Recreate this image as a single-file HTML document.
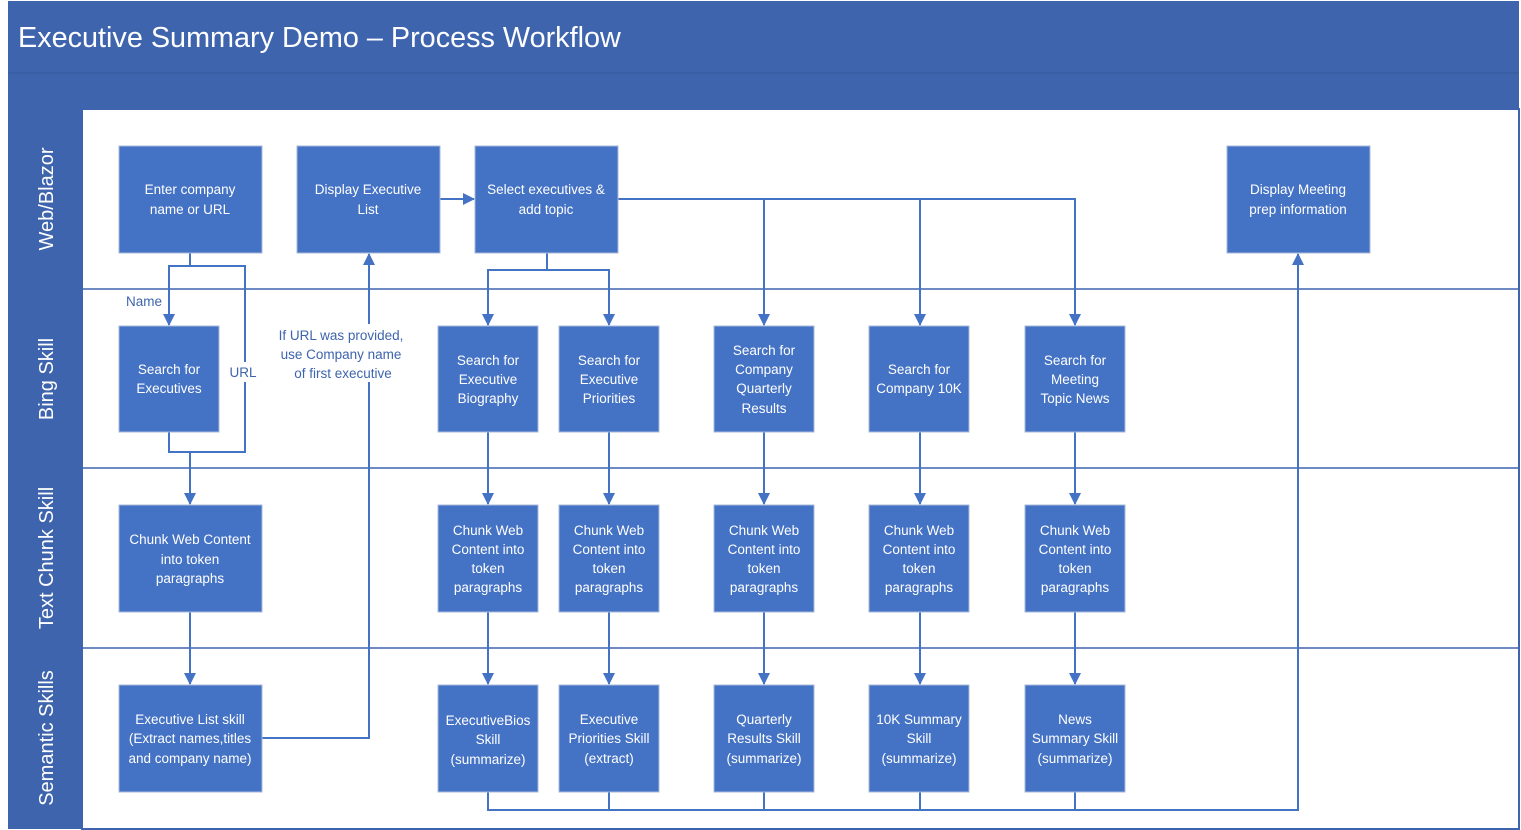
<!DOCTYPE html>
<html><head><meta charset="utf-8"><style>
body{margin:0;background:#fff}
svg{display:block}
text{font-family:"Liberation Sans",sans-serif}
.b{fill:#4472C4;stroke:#A9B9DA;stroke-width:1}
.t{fill:#fff;font-size:13.5px;text-anchor:middle}
.l{fill:none;stroke:#4472C4;stroke-width:2}
.lane{fill:#fff;font-size:20px;text-anchor:middle}
.lab{fill:#3E64AD;font-size:13.5px;text-anchor:middle}
</style></head><body>
<svg width="1521" height="830" viewBox="0 0 1521 830">
<defs><marker id="a" markerWidth="12" markerHeight="12" refX="11" refY="6" orient="auto" markerUnits="userSpaceOnUse"><path d="M0,0L12,6L0,12z" fill="#4472C4"/></marker></defs>
<rect x="8" y="1" width="1511" height="108" fill="#3E64AD"/>
<line x1="8" y1="73" x2="1519" y2="73" stroke="#34589a"/>
<text x="18" y="47" fill="#fff" font-size="28.8">Executive Summary Demo – Process Workflow</text>
<rect x="8" y="109" width="74" height="720" fill="#3E64AD"/>
<rect x="82" y="109" width="1437" height="720" fill="#fff" stroke="#3E64AD" stroke-width="2"/>
<g stroke="#3E64AD" stroke-width="1.5"><line x1="8" y1="289" x2="1519" y2="289"/><line x1="8" y1="468" x2="1519" y2="468"/><line x1="8" y1="648" x2="1519" y2="648"/></g>
<text class="lane" transform="translate(53,199) rotate(-90)">Web/Blazor</text>
<text class="lane" transform="translate(53,379) rotate(-90)">Bing Skill</text>
<text class="lane" transform="translate(53,558) rotate(-90)">Text Chunk Skill</text>
<text class="lane" transform="translate(53,738) rotate(-90)">Semantic Skills</text>

<g class="l">
<path d="M190,253V266H169V325" marker-end="url(#a)"/>
<path d="M190,266H245V452H169V432"/>
<path d="M190,452V504" marker-end="url(#a)"/>
<path d="M190,612V684" marker-end="url(#a)"/>
<path d="M262,738H369V254" marker-end="url(#a)"/>
<path d="M440,199H474" marker-end="url(#a)"/>
<path d="M547,253V270H488V325" marker-end="url(#a)"/>
<path d="M547,270H609V325" marker-end="url(#a)"/>
<path d="M618,199H1075V325" marker-end="url(#a)"/>
<path d="M764,199V325" marker-end="url(#a)"/>
<path d="M920,199V325" marker-end="url(#a)"/>
<path d="M488,432V504" marker-end="url(#a)"/><path d="M609,432V504" marker-end="url(#a)"/><path d="M764,432V504" marker-end="url(#a)"/><path d="M920,432V504" marker-end="url(#a)"/><path d="M1075,432V504" marker-end="url(#a)"/>
<path d="M488,612V684" marker-end="url(#a)"/><path d="M609,612V684" marker-end="url(#a)"/><path d="M764,612V684" marker-end="url(#a)"/><path d="M920,612V684" marker-end="url(#a)"/><path d="M1075,612V684" marker-end="url(#a)"/>
<path d="M488,792V810H1298V254" marker-end="url(#a)"/>
<path d="M609,792V810M764,792V810M920,792V810M1075,792V810"/>
</g>
<rect x="268" y="324" width="146" height="58" fill="#fff"/>
<rect x="228" y="362" width="32" height="20" fill="#fff"/>
<text class="lab" x="144" y="306">Name</text>
<text class="lab" x="243" y="377">URL</text>
<text class="lab" x="341" y="340">If URL was provided,</text>
<text class="lab" x="341" y="359">use Company name</text>
<text class="lab" x="343" y="378">of first executive</text>

<g>
<rect class="b" x="119" y="146" width="143" height="107"/><text class="t"><tspan x="190" y="194">Enter company</tspan><tspan x="190" y="214">name or URL</tspan></text>
<rect class="b" x="297" y="146" width="143" height="107"/><text class="t"><tspan x="368" y="194">Display Executive</tspan><tspan x="368" y="214">List</tspan></text>
<rect class="b" x="475" y="146" width="143" height="107"/><text class="t"><tspan x="546" y="194">Select executives &amp;</tspan><tspan x="546" y="214">add topic</tspan></text>
<rect class="b" x="1227" y="146" width="143" height="107"/><text class="t"><tspan x="1298" y="194">Display Meeting</tspan><tspan x="1298" y="214">prep information</tspan></text>

<rect class="b" x="119" y="326" width="100" height="106"/><text class="t"><tspan x="169" y="374">Search for</tspan><tspan x="169" y="393">Executives</tspan></text>
<rect class="b" x="438" y="326" width="100" height="106"/><text class="t"><tspan x="488" y="365">Search for</tspan><tspan x="488" y="384">Executive</tspan><tspan x="488" y="403">Biography</tspan></text>
<rect class="b" x="559" y="326" width="100" height="106"/><text class="t"><tspan x="609" y="365">Search for</tspan><tspan x="609" y="384">Executive</tspan><tspan x="609" y="403">Priorities</tspan></text>
<rect class="b" x="714" y="326" width="100" height="106"/><text class="t"><tspan x="764" y="355">Search for</tspan><tspan x="764" y="374">Company</tspan><tspan x="764" y="393">Quarterly</tspan><tspan x="764" y="413">Results</tspan></text>
<rect class="b" x="869" y="326" width="100" height="106"/><text class="t"><tspan x="919" y="374">Search for</tspan><tspan x="919" y="393">Company 10K</tspan></text>
<rect class="b" x="1025" y="326" width="100" height="106"/><text class="t"><tspan x="1075" y="365">Search for</tspan><tspan x="1075" y="384">Meeting</tspan><tspan x="1075" y="403">Topic News</tspan></text>

<rect class="b" x="119" y="505" width="143" height="107"/><text class="t"><tspan x="190" y="544">Chunk Web Content</tspan><tspan x="190" y="564">into token</tspan><tspan x="190" y="583">paragraphs</tspan></text>
<rect class="b" x="438" y="505" width="100" height="107"/><text class="t"><tspan x="488" y="535">Chunk Web</tspan><tspan x="488" y="554">Content into</tspan><tspan x="488" y="573">token</tspan><tspan x="488" y="592">paragraphs</tspan></text>
<rect class="b" x="559" y="505" width="100" height="107"/><text class="t"><tspan x="609" y="535">Chunk Web</tspan><tspan x="609" y="554">Content into</tspan><tspan x="609" y="573">token</tspan><tspan x="609" y="592">paragraphs</tspan></text>
<rect class="b" x="714" y="505" width="100" height="107"/><text class="t"><tspan x="764" y="535">Chunk Web</tspan><tspan x="764" y="554">Content into</tspan><tspan x="764" y="573">token</tspan><tspan x="764" y="592">paragraphs</tspan></text>
<rect class="b" x="869" y="505" width="100" height="107"/><text class="t"><tspan x="919" y="535">Chunk Web</tspan><tspan x="919" y="554">Content into</tspan><tspan x="919" y="573">token</tspan><tspan x="919" y="592">paragraphs</tspan></text>
<rect class="b" x="1025" y="505" width="100" height="107"/><text class="t"><tspan x="1075" y="535">Chunk Web</tspan><tspan x="1075" y="554">Content into</tspan><tspan x="1075" y="573">token</tspan><tspan x="1075" y="592">paragraphs</tspan></text>

<rect class="b" x="119" y="685" width="143" height="107"/><text class="t"><tspan x="190" y="724">Executive List skill</tspan><tspan x="190" y="743">(Extract names,titles</tspan><tspan x="190" y="763">and company name)</tspan></text>
<rect class="b" x="438" y="685" width="100" height="107"/><text class="t"><tspan x="488" y="725">ExecutiveBios</tspan><tspan x="488" y="744">Skill</tspan><tspan x="488" y="764">(summarize)</tspan></text>
<rect class="b" x="559" y="685" width="100" height="107"/><text class="t"><tspan x="609" y="724">Executive</tspan><tspan x="609" y="743">Priorities Skill</tspan><tspan x="609" y="763">(extract)</tspan></text>
<rect class="b" x="714" y="685" width="100" height="107"/><text class="t"><tspan x="764" y="724">Quarterly</tspan><tspan x="764" y="743">Results Skill</tspan><tspan x="764" y="763">(summarize)</tspan></text>
<rect class="b" x="869" y="685" width="100" height="107"/><text class="t"><tspan x="919" y="724">10K Summary</tspan><tspan x="919" y="743">Skill</tspan><tspan x="919" y="763">(summarize)</tspan></text>
<rect class="b" x="1025" y="685" width="100" height="107"/><text class="t"><tspan x="1075" y="724">News</tspan><tspan x="1075" y="743">Summary Skill</tspan><tspan x="1075" y="763">(summarize)</tspan></text>
</g>
</svg>
</body></html>
